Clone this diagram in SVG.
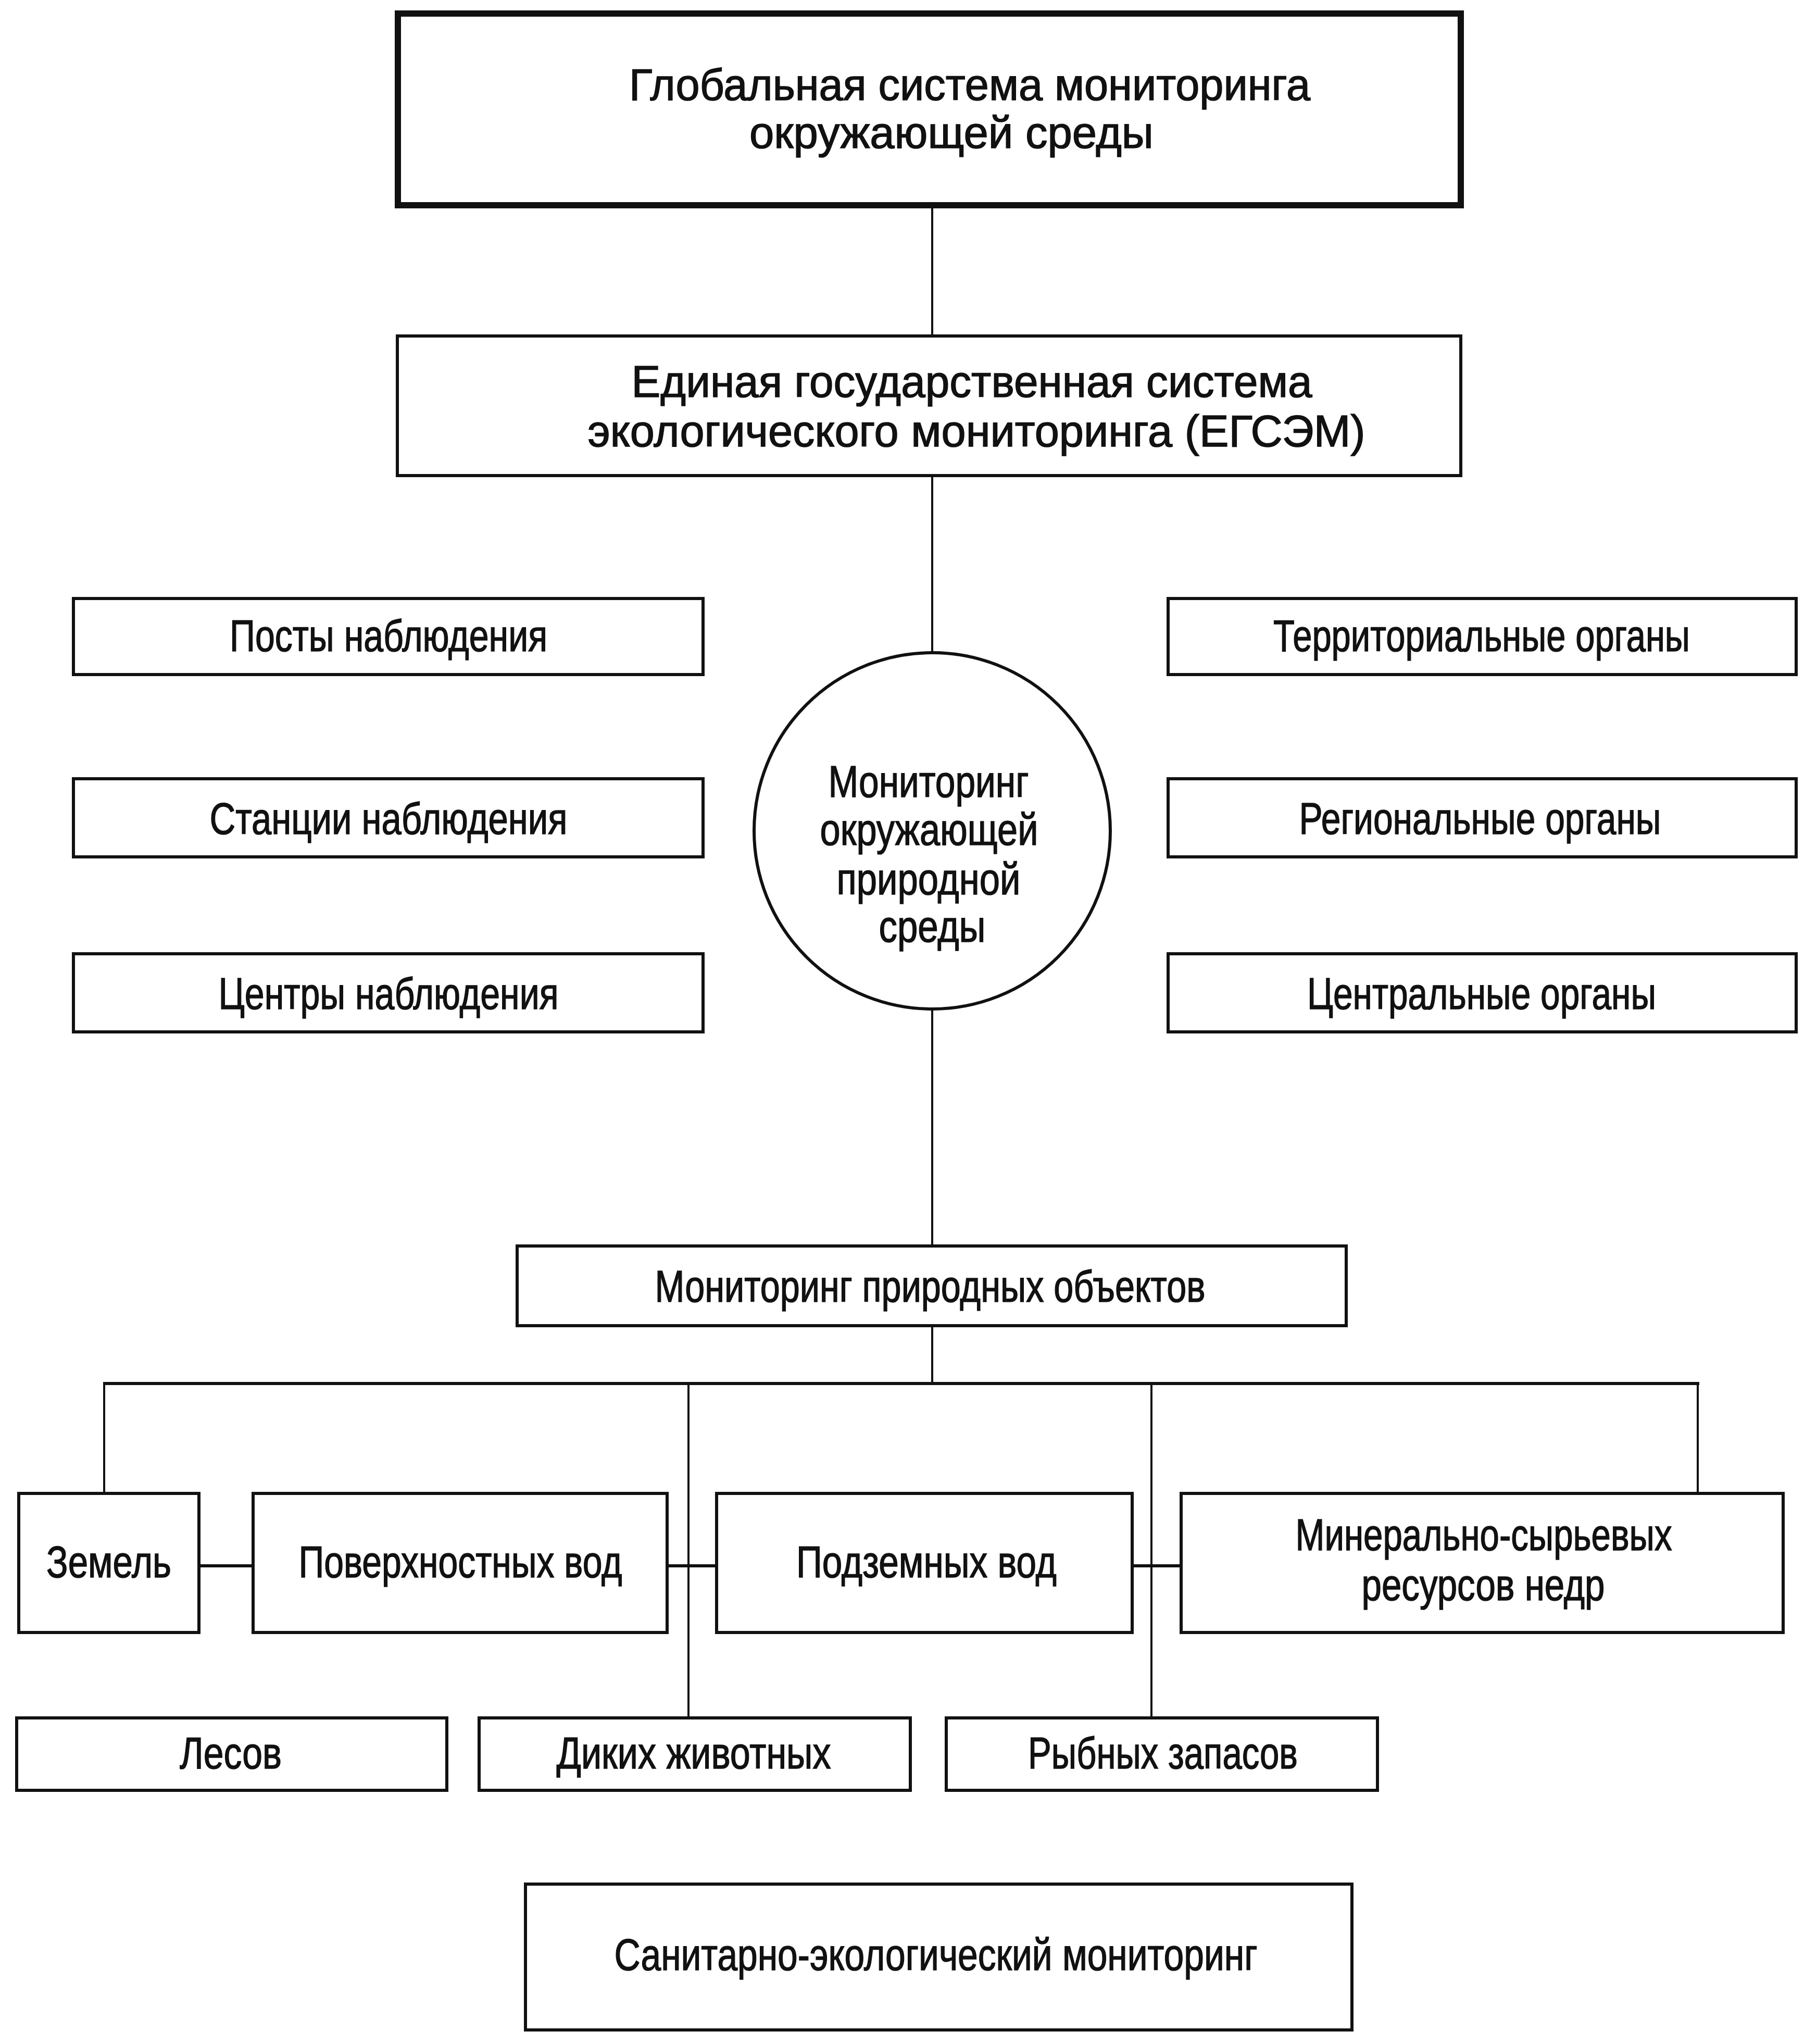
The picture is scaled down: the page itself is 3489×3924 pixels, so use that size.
<svg xmlns="http://www.w3.org/2000/svg" width="3489" height="3924" viewBox="0 0 3489 3924">
<style>
.box{fill:#fff;stroke:#111;stroke-width:6}
.thick{stroke-width:12}
.ln{fill:none;stroke:#111;stroke-width:4}
.bus{fill:none;stroke:#111;stroke-width:6}
text{font-family:"Liberation Sans","Noto Sans",Arial,sans-serif;font-size:86px;fill:#111;stroke:#111;stroke-width:1.5;text-anchor:middle}
</style>
<rect width="3489" height="3924" fill="#fff"/>
<g id="connectors">
<line class="ln" x1="1790" y1="400" x2="1790" y2="642"/>
<line class="ln" x1="1790" y1="914" x2="1790" y2="1250"/>
<line class="ln" x1="1790" y1="1940" x2="1790" y2="2389"/>
<line class="ln" x1="1790" y1="2548" x2="1790" y2="2656"/>
<line class="bus" x1="198" y1="2656" x2="3263" y2="2656"/>
<line class="ln" x1="200" y1="2656" x2="200" y2="2864"/>
<line class="ln" x1="3260" y1="2656" x2="3260" y2="2864"/>
<line class="ln" x1="1322" y1="2656" x2="1322" y2="3295"/>
<line class="ln" x1="2211" y1="2656" x2="2211" y2="3295"/>
<line class="bus" x1="385" y1="3006" x2="483" y2="3006"/>
<line class="bus" x1="1284" y1="3006" x2="1373" y2="3006"/>
<line class="bus" x1="2177" y1="3006" x2="2265" y2="3006"/>
</g>
<g id="global">
<rect class="box thick" x="764" y="26" width="2041" height="368"/>
<text x="1862" y="192" textLength="1308" lengthAdjust="spacingAndGlyphs">Глобальная система мониторинга</text>
<text x="1827" y="284" textLength="776" lengthAdjust="spacingAndGlyphs">окружающей среды</text>
</g>
<g id="egsem">
<rect class="box" x="763" y="645" width="2042" height="268"/>
<text x="1866" y="762" textLength="1307" lengthAdjust="spacingAndGlyphs">Единая государственная система</text>
<text x="1875" y="857" textLength="1493" lengthAdjust="spacingAndGlyphs">экологического мониторинга (ЕГСЭМ)</text>
</g>
<g id="posty">
<rect class="box" x="141" y="1149" width="1209" height="146"/>
<text x="746" y="1250" textLength="610" lengthAdjust="spacingAndGlyphs">Посты наблюдения</text>
</g>
<g id="stancii">
<rect class="box" x="141" y="1495" width="1209" height="150"/>
<text x="746" y="1601" textLength="687" lengthAdjust="spacingAndGlyphs">Станции наблюдения</text>
</g>
<g id="centry">
<rect class="box" x="141" y="1831" width="1209" height="150"/>
<text x="746" y="1937" textLength="653" lengthAdjust="spacingAndGlyphs">Центры наблюдения</text>
</g>
<g id="territorial">
<rect class="box" x="2243" y="1149" width="1206" height="146"/>
<text x="2845" y="1250" textLength="800" lengthAdjust="spacingAndGlyphs">Территориальные органы</text>
</g>
<g id="regional">
<rect class="box" x="2243" y="1495" width="1206" height="150"/>
<text x="2842" y="1601" textLength="695" lengthAdjust="spacingAndGlyphs">Региональные органы</text>
</g>
<g id="central">
<rect class="box" x="2243" y="1831" width="1206" height="150"/>
<text x="2845" y="1937" textLength="670" lengthAdjust="spacingAndGlyphs">Центральные органы</text>
</g>
<g id="monitoring-env">
<circle class="box" cx="1790" cy="1595" r="342"/>
<text x="1783" y="1530" textLength="385" lengthAdjust="spacingAndGlyphs">Мониторинг</text>
<text x="1784" y="1622" textLength="419" lengthAdjust="spacingAndGlyphs">окружающей</text>
<text x="1783" y="1717" textLength="353" lengthAdjust="spacingAndGlyphs">природной</text>
<text x="1790" y="1808" textLength="205" lengthAdjust="spacingAndGlyphs">среды</text>
</g>
<g id="natural-objects">
<rect class="box" x="993" y="2392" width="1592" height="153"/>
<text x="1786" y="2499" textLength="1057" lengthAdjust="spacingAndGlyphs">Мониторинг природных объектов</text>
</g>
<g id="zemel">
<rect class="box" x="36" y="2867" width="346" height="267"/>
<text x="209" y="3028" textLength="240" lengthAdjust="spacingAndGlyphs">Земель</text>
</g>
<g id="poverh">
<rect class="box" x="486" y="2867" width="795" height="267"/>
<text x="884" y="3028" textLength="621" lengthAdjust="spacingAndGlyphs">Поверхностных вод</text>
</g>
<g id="podzem">
<rect class="box" x="1376" y="2867" width="798" height="267"/>
<text x="1779" y="3028" textLength="500" lengthAdjust="spacingAndGlyphs">Подземных вод</text>
</g>
<g id="mineral">
<rect class="box" x="2268" y="2867" width="1156" height="267"/>
<text x="2849" y="2976" textLength="723" lengthAdjust="spacingAndGlyphs">Минерально-сырьевых</text>
<text x="2848" y="3072" textLength="467" lengthAdjust="spacingAndGlyphs">ресурсов недр</text>
</g>
<g id="lesov">
<rect class="box" x="32" y="3298" width="826" height="139"/>
<text x="443" y="3395" textLength="196" lengthAdjust="spacingAndGlyphs">Лесов</text>
</g>
<g id="dikih">
<rect class="box" x="920" y="3298" width="828" height="139"/>
<text x="1332" y="3395" textLength="527" lengthAdjust="spacingAndGlyphs">Диких животных</text>
</g>
<g id="rybnyh">
<rect class="box" x="1817" y="3298" width="828" height="139"/>
<text x="2233" y="3395" textLength="518" lengthAdjust="spacingAndGlyphs">Рыбных запасов</text>
</g>
<g id="sanitary">
<rect class="box" x="1009" y="3617" width="1587" height="280"/>
<text x="1797" y="3782" textLength="1235" lengthAdjust="spacingAndGlyphs">Санитарно-экологический мониторинг</text>
</g>
</svg>
